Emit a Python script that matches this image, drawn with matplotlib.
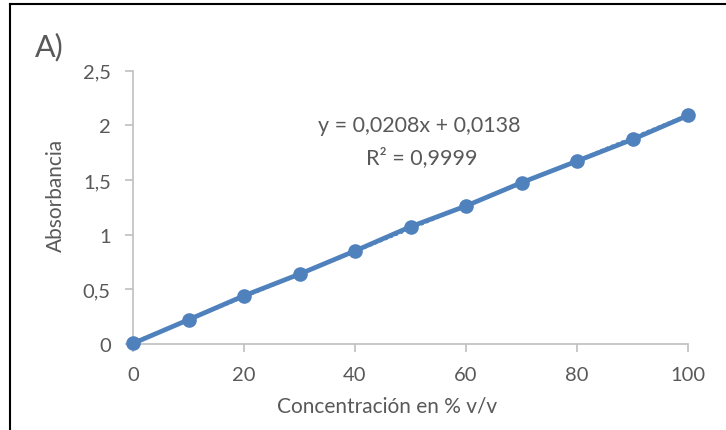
import numpy as np
import matplotlib.pyplot as plt
from matplotlib.lines import Line2D

# datos
concentracion = [0, 10, 20, 30, 40, 50, 60, 70, 80, 90, 100]
absorbancia = [0.005, 0.222, 0.441, 0.639, 0.851, 1.072, 1.262, 1.475, 1.672, 1.870, 2.089]
pendiente = 0.0208
intercepto = 0.0138
r2 = 0.9999
yticks = [0, 0.5, 1, 1.5, 2, 2.5]
xticks = [0, 20, 40, 60, 80, 100]

azul = '#4F81BD'
gris = '#595959'
plt.rcParams['font.family'] = ['Lato', 'DejaVu Sans']

fig = plt.figure(figsize=(7.26, 4.31), dpi=100)
ax = fig.add_axes([133/726, 1 - 345/431, 555/726, 273.5/431])

# linea de tendencia (punteada, debajo)
xt = np.array([concentracion[0], concentracion[-1]])
ax.plot(xt, pendiente*xt + intercepto, color=azul, lw=2, ls=(0, (1, 1)), zorder=2)
ax.plot(concentracion, absorbancia, color=azul, lw=3.4, marker='o', ms=9.5,
        zorder=3, clip_on=False)

ax.set_xlim(0, 100)
ax.set_ylim(0, 2.5)
ax.set_xticks(xticks)
ax.set_yticks(yticks)
ax.set_yticklabels([('%g' % v).replace('.', ',') for v in yticks])
ax.tick_params(axis='both', colors='#BFBFBF', labelcolor=gris, labelsize=14.5,
               direction='out', length=6, width=1.2)
ax.tick_params(axis='y', pad=10)
ax.tick_params(axis='x', pad=10)
for s in ['top', 'right']:
    ax.spines[s].set_visible(False)
for s in ['left', 'bottom']:
    ax.spines[s].set_color('#BFBFBF')
    ax.spines[s].set_linewidth(1.2)

ax.set_ylabel('Absorbancia', color=gris, fontsize=15)
ax.yaxis.set_label_coords(-0.121, 0.548)
ax.set_xlabel('Concentración en % v/v', color=gris, fontsize=15)
ax.xaxis.set_label_coords(0.458, -0.19)

ax.text(51.5, 2.0, 'y = %sx + %s' % (('%.4f' % pendiente).replace('.', ','),
                                    ('%.4f' % intercepto).replace('.', ',')),
        ha='center', va='center', color=gris, fontsize=15.5)
ax.text(52, 1.71, 'R² = %s' % ('%.4f' % r2).replace('.', ','),
        ha='center', va='center', color=gris, fontsize=15.5)

fig.text(35/726, 1 - 47/431, 'A)', color=gris, fontsize=22, va='center', ha='left')

# borde negro de la figura
fig.add_artist(Line2D([10/726, 10/726], [0, 1 - 5/431], color='black', lw=1.5))
fig.add_artist(Line2D([10/726, 1], [1 - 5/431, 1 - 5/431], color='black', lw=1.5))

fig.savefig('out.png', dpi=100)
